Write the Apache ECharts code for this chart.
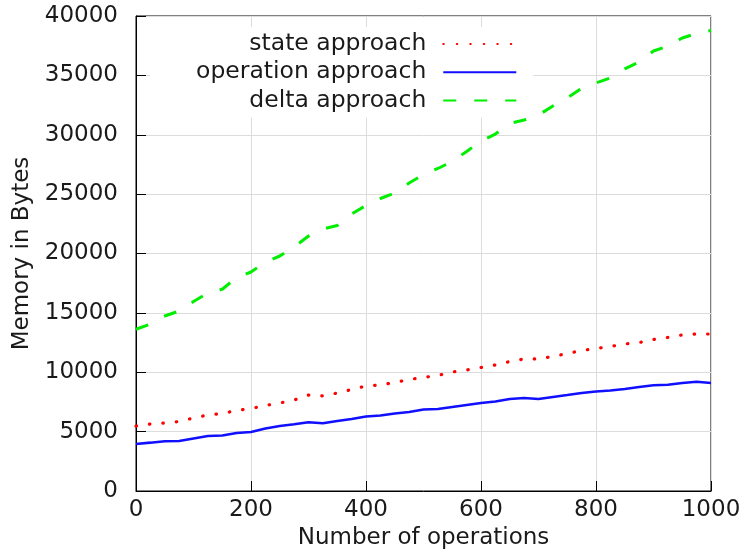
<!DOCTYPE html>
<html>
<head>
<meta charset="utf-8">
<script src="https://cdn.jsdelivr.net/npm/echarts@6/dist/echarts.min.js"></script>
<style>
  html, body { margin: 0; padding: 0; background: #fff; }
  #chart { width: 745px; height: 549px; }
</style>
</head>
<body>
<div id="chart"></div>
<script>
// Number of operations (x positions of the samples)
const operations = [0, 25, 50, 75, 100, 125, 150, 175, 200, 225, 250, 275, 300, 325, 350, 375, 400,
  425, 450, 475, 500, 525, 550, 575, 600, 625, 650, 675, 700, 725, 750, 775, 800, 825, 850, 875,
  900, 925, 950, 975, 1000];

// Memory in bytes for each approach
const stateApproach = [5470, 5640, 5730, 5850, 6150, 6400, 6530, 6780, 6950, 7200, 7410, 7660, 8080,
  8000, 8250, 8550, 8840, 8930, 9140, 9390, 9560, 9730, 10020, 10190, 10400, 10610, 10900, 11120,
  11120, 11330, 11580, 11830, 12000, 12170, 12380, 12500, 12760, 12930, 13140, 13220, 13220];

const operationApproach = [3960, 4070, 4190, 4210, 4420, 4630, 4670, 4880, 4970, 5260, 5470, 5620,
  5790, 5700, 5900, 6060, 6270, 6360, 6530, 6650, 6860, 6900, 7070, 7240, 7410, 7540, 7750, 7830,
  7750, 7920, 8080, 8250, 8380, 8460, 8590, 8760, 8900, 8950, 9100, 9200, 9100];

const deltaApproach = [13620, 14060, 14740, 15160, 15960, 16670, 16990, 17980, 18440, 19280, 19790,
  20550, 21470, 22060, 22360, 23330, 24040, 24630, 25100, 25940, 26650, 27160, 27750, 28590, 29470,
  30060, 30950, 31240, 31660, 32420, 33100, 33900, 34360, 34780, 35540, 36130, 37050, 37470, 38150,
  38530, 38780];

const seriesNames = ['state approach', 'operation approach', 'delta approach'];
const xTicks = { min: 0, max: 1000, step: 200 };
const yTicks = { min: 0, max: 40000, step: 5000 };

const pairs = vals => operations.map((x, i) => [x, vals[i]]);
const plain = v => String(v);

const font = 'DejaVu Sans';
const fontSize = 23;
const textColor = '#1a1a1a';

const chart = echarts.init(document.getElementById('chart'), null, { renderer: 'canvas' });

chart.setOption({
  backgroundColor: '#fff',
  animation: false,
  textStyle: { fontFamily: font },
  grid: {
    left: 136, top: 16, width: 575, height: 475,
    containLabel: false, outerBoundsMode: 'none',
    show: true, borderColor: '#000', borderWidth: 1, backgroundColor: 'transparent'
  },
  legend: {
    orient: 'vertical',
    align: 'right',
    left: 150, top: 27,
    padding: [5, 16, 5, 46],
    backgroundColor: '#fff',
    itemWidth: 73, itemHeight: 14, itemGap: 4.3,
    itemStyle: { opacity: 0 },
    textStyle: { fontFamily: font, fontSize: 23.5, color: textColor, padding: [0, 12, 0, 0] },
    data: seriesNames
  },
  xAxis: {
    type: 'value',
    min: xTicks.min, max: xTicks.max, interval: xTicks.step,
    name: 'Number of operations',
    nameLocation: 'middle', nameGap: 35,
    nameTextStyle: { fontFamily: font, fontSize: fontSize, color: textColor },
    axisLine: { show: true, lineStyle: { color: '#000', width: 1 } },
    axisTick: { show: true, inside: true, length: 10, lineStyle: { color: '#000' } },
    axisLabel: { fontFamily: font, fontSize: fontSize, color: textColor, margin: 8, formatter: plain },
    splitLine: { show: true, lineStyle: { color: '#dcdcdc', width: 1 } }
  },
  yAxis: {
    type: 'value',
    min: yTicks.min, max: yTicks.max, interval: yTicks.step,
    name: 'Memory in Bytes',
    nameLocation: 'middle', nameGap: 93, nameRotate: 90,
    nameTextStyle: { fontFamily: font, fontSize: fontSize, color: textColor },
    axisLine: { show: true, lineStyle: { color: '#000', width: 1 } },
    axisTick: { show: true, inside: true, length: 10, lineStyle: { color: '#000' } },
    axisLabel: { fontFamily: font, fontSize: fontSize, color: textColor, margin: 18, formatter: plain },
    splitLine: { show: true, lineStyle: { color: '#dcdcdc', width: 1 } }
  },
  series: [
    {
      name: seriesNames[0], type: 'line', symbol: 'none', z: 3,
      data: pairs(stateApproach),
      lineStyle: { color: '#ff0000', width: 3.2, type: [0.5, 13], cap: 'round' },
      itemStyle: { color: '#ff0000' }
    },
    {
      name: seriesNames[1], type: 'line', symbol: 'none', z: 3,
      data: pairs(operationApproach),
      lineStyle: { color: '#1010ff', width: 2.6, type: 'solid' },
      itemStyle: { color: '#1010ff' }
    },
    {
      name: seriesNames[2], type: 'line', symbol: 'none', z: 3,
      data: pairs(deltaApproach),
      lineStyle: { color: '#00ee00', width: 3, type: [13, 18] },
      itemStyle: { color: '#00ee00' }
    }
  ]
});
</script>
</body>
</html>
